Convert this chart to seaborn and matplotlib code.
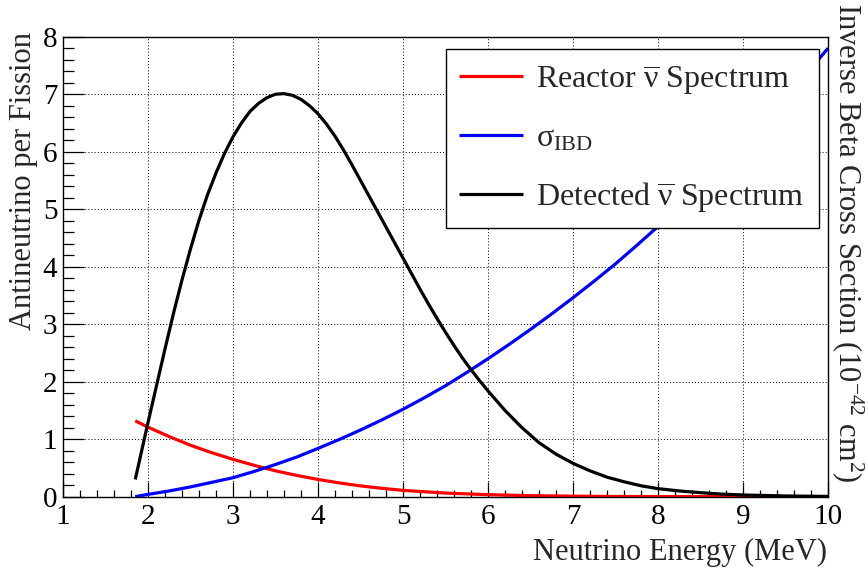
import matplotlib
matplotlib.use("Agg")
import matplotlib.pyplot as plt
from matplotlib.ticker import MultipleLocator
import pandas as pd
import seaborn as sns

# Reactor antineutrino flux per fission (MeV)
energy_reactor = [1.85, 2.00, 2.25, 2.50, 2.75, 3.00, 3.25, 3.50, 3.75, 4.00, 4.25,
                  4.50, 4.75, 5.00, 5.50, 6.00, 6.50, 7.00, 7.50, 8.00, 9.00, 10.00]
flux_reactor = [1.32, 1.21, 1.045, 0.895, 0.765, 0.65, 0.545, 0.45, 0.37, 0.30, 0.24,
                0.188, 0.146, 0.11, 0.063, 0.035, 0.018, 0.009, 0.004, 0.002, 0.0005, 0.0001]

# Inverse beta decay cross section (1e-42 cm^2)
energy_xsec = [1.85, 1.90, 2.00, 2.25, 2.50, 2.75, 3.00, 3.25, 3.50, 3.75, 4.00, 4.25,
               4.50, 4.75, 5.00, 5.25, 5.50, 5.75, 6.00, 6.25, 6.50, 6.75, 7.00, 7.25,
               7.50, 7.75, 8.00, 8.25, 8.50, 8.75, 9.00, 9.25, 9.50, 9.75, 10.00]
xsec_ibd = [0.00, 0.015, 0.04, 0.10, 0.17, 0.25, 0.33, 0.44, 0.56, 0.69, 0.84, 0.995,
            1.16, 1.335, 1.52, 1.72, 1.93, 2.16, 2.40, 2.65, 2.91, 3.18, 3.46, 3.75,
            4.05, 4.37, 4.70, 5.05, 5.41, 5.77, 6.14, 6.53, 6.94, 7.36, 7.80]

# Detected spectrum (flux x cross section)
energy_detected = [1.85, 1.90, 1.95, 2.00, 2.05, 2.10, 2.20, 2.30, 2.40, 2.50, 2.60,
                   2.70, 2.80, 2.90, 3.00, 3.10, 3.20, 3.30, 3.40, 3.50, 3.60, 3.70,
                   3.80, 3.90, 4.00, 4.10, 4.20, 4.30, 4.40, 4.50, 4.60, 4.70, 4.80,
                   4.90, 5.00, 5.10, 5.20, 5.30, 5.40, 5.50, 5.60, 5.70, 5.80, 5.90,
                   6.00, 6.20, 6.40, 6.60, 6.80, 7.00, 7.20, 7.40, 7.60, 7.80, 8.00,
                   8.25, 8.50, 8.75, 9.00, 9.50, 10.00]
rate_detected = [0.30, 0.63, 0.96, 1.29, 1.61, 1.93, 2.57, 3.19, 3.77, 4.31, 4.81,
                 5.25, 5.63, 5.97, 6.26, 6.50, 6.70, 6.84, 6.94, 7.00, 7.01, 6.98,
                 6.91, 6.80, 6.66, 6.48, 6.27, 6.03, 5.77, 5.50, 5.23, 4.96, 4.69,
                 4.42, 4.15, 3.88, 3.61, 3.35, 3.10, 2.86, 2.63, 2.41, 2.21, 2.02,
                 1.84, 1.50, 1.20, 0.94, 0.74, 0.58, 0.45, 0.34, 0.26, 0.19, 0.14,
                 0.10, 0.07, 0.045, 0.03, 0.013, 0.005]

series_labels = [r"Reactor $\overline{\mathrm{\nu}}$ Spectrum",
                 r"$\mathrm{\sigma}_{\mathrm{IBD}}$",
                 r"Detected $\overline{\mathrm{\nu}}$ Spectrum"]
series_colors = ["#ff0000", "#0000ff", "#000000"]

x_ticks = [1, 2, 3, 4, 5, 6, 7, 8, 9, 10]
y_ticks = [0, 1, 2, 3, 4, 5, 6, 7, 8]

sns.set_theme(style="ticks")
plt.rcParams.update({
    "font.family": ["Liberation Serif", "DejaVu Serif"],
    "mathtext.fontset": "custom",
    "mathtext.rm": "Liberation Serif",
    "mathtext.it": "Liberation Serif:italic",
    "mathtext.bf": "Liberation Serif:bold",
    "axes.edgecolor": "black",
    "axes.linewidth": 1.0,
    "lines.solid_joinstyle": "round",
    "lines.solid_capstyle": "butt",
})

fig = plt.figure(figsize=(8.68, 5.73), dpi=100)
ax = fig.add_axes([63 / 868, 1 - 496.7 / 573, 765 / 868, 460 / 573])

frames = [
    pd.DataFrame({"E": energy_reactor, "v": flux_reactor}),
    pd.DataFrame({"E": energy_xsec, "v": xsec_ibd}),
    pd.DataFrame({"E": energy_detected, "v": rate_detected}),
]
for df, lab, col in zip(frames, series_labels, series_colors):
    sns.lineplot(data=df, x="E", y="v", color=col, linewidth=2.3, label=lab,
                 ax=ax, sort=True, estimator=None)

ax.set_xlim(x_ticks[0], x_ticks[-1])
ax.set_ylim(y_ticks[0], y_ticks[-1])
ax.set_xticks(x_ticks)
ax.set_yticks(y_ticks)
ax.xaxis.set_minor_locator(MultipleLocator(0.2))
ax.yaxis.set_minor_locator(MultipleLocator(0.2))
ax.set_xlabel("")
ax.set_ylabel("")

ax.grid(True, which="major", color="black", linestyle=(0, (1, 2.2)), linewidth=0.7)
ax.tick_params(axis="both", which="both", direction="in", top=False, right=False,
               colors="black", width=0.9, labelsize=21)
ax.tick_params(axis="x", which="major", length=10.5, pad=5)
ax.tick_params(axis="x", which="minor", length=5)
ax.tick_params(axis="y", which="major", length=15, pad=4)
ax.tick_params(axis="y", which="minor", length=7.7)
for s in ax.spines.values():
    s.set_color("black")
    s.set_linewidth(1.0)

leg = ax.legend(loc="upper left", bbox_to_anchor=(0.5007, 0.589, 0.4873, 0.3836),
                mode="expand", borderaxespad=0, frameon=True, fancybox=False,
                edgecolor="black", framealpha=1, fontsize=23, handlelength=2.0,
                handletextpad=0.4, labelspacing=0.85, borderpad=0.42)
leg.get_frame().set_linewidth(1.0)
for line in leg.get_lines():
    line.set_linewidth(2.3)

fig.text(827 / 868, 1 - 552 / 573, "Neutrino Energy (MeV)", fontsize=22,
         ha="right", va="center")
fig.text(23.7 / 868, 1 - 32 / 573, "Antineutrino per Fission", fontsize=22,
         rotation=90, ha="center", va="top")
fig.text(848 / 868, 1 - 3 / 573,
         r"Inverse Beta Cross Section (10$^{\mathregular{-42}}$ cm$^{\mathregular{2}}$)",
         fontsize=22, rotation=270, ha="center", va="top")

fig.savefig("out.png", dpi=100, facecolor="white")
